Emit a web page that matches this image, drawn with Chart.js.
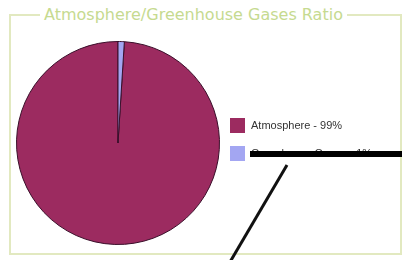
<!DOCTYPE html>
<html>
<head>
<meta charset="utf-8">
<script src="https://cdn.jsdelivr.net/npm/chart.js@4/dist/chart.umd.min.js"></script>
<style>
  html, body { margin: 0; padding: 0; background: #ffffff; width: 405px; height: 260px; overflow: hidden; }
  #frame { position: absolute; left: 9px; top: 14px; width: 393px; height: 241px; border: 2px solid #e2e9c0; box-sizing: border-box; }
  #title { position: absolute; left: 29px; top: -11px; padding: 0 4px; background: #ffffff; color: #c6da90;
           font-family: "DejaVu Sans", sans-serif; font-size: 16px; line-height: 20px; white-space: nowrap; }
  #chart { position: absolute; left: 0; top: 0; }
  #legend { position: absolute; left: 230px; top: 118px; font-family: "Liberation Sans", Arial, sans-serif; font-size: 11px; color: #333333; }
  .item { position: relative; height: 15px; margin-bottom: 13px; white-space: nowrap; }
  .box { position: absolute; left: 0; top: 0; width: 15px; height: 15px; }
  .lbl { position: absolute; left: 21px; top: 1px; line-height: 13px; }
  #scribble { position: absolute; left: 0; top: 0; }
</style>
</head>
<body>
<div id="frame"><div id="title">Atmosphere/Greenhouse Gases Ratio</div></div>
<canvas id="chart" width="405" height="260"></canvas>
<div id="legend"></div>
<svg id="scribble" width="405" height="260">
  <line x1="250" y1="154" x2="402" y2="154" stroke="#000" stroke-width="6"/>
  <line x1="287" y1="165" x2="230" y2="262" stroke="#111" stroke-width="3"/>
</svg>
<script>
const categories = ["Atmosphere", "Greenhouse Gases"];
const values = [99, 1];
const legendLabels = ["Atmosphere - 99%", "Greenhouse Gases - 1%"];
const colors = ["#9c2b60", "#a3a6f2"];

const total = values.reduce((a, b) => a + b, 0);
const ctx = document.getElementById("chart").getContext("2d");
new Chart(ctx, {
  type: "pie",
  data: {
    labels: categories,
    datasets: [{
      data: values,
      backgroundColor: colors,
      borderColor: "#3a0f2a",
      borderWidth: 1
    }]
  },
  options: {
    responsive: false,
    animation: false,
    devicePixelRatio: 1,
    rotation: values[1] / total * 360,
    layout: { padding: { left: 15, top: 41, bottom: 15, right: 184 } },
    plugins: { legend: { display: false }, tooltip: { enabled: false } }
  }
});

const lg = document.getElementById("legend");
legendLabels.forEach((t, i) => {
  const d = document.createElement("div");
  d.className = "item";
  d.innerHTML = '<span class="box" style="background:' + colors[i] + '"></span><span class="lbl">' + t + '</span>';
  lg.appendChild(d);
});
</script>
</body>
</html>
